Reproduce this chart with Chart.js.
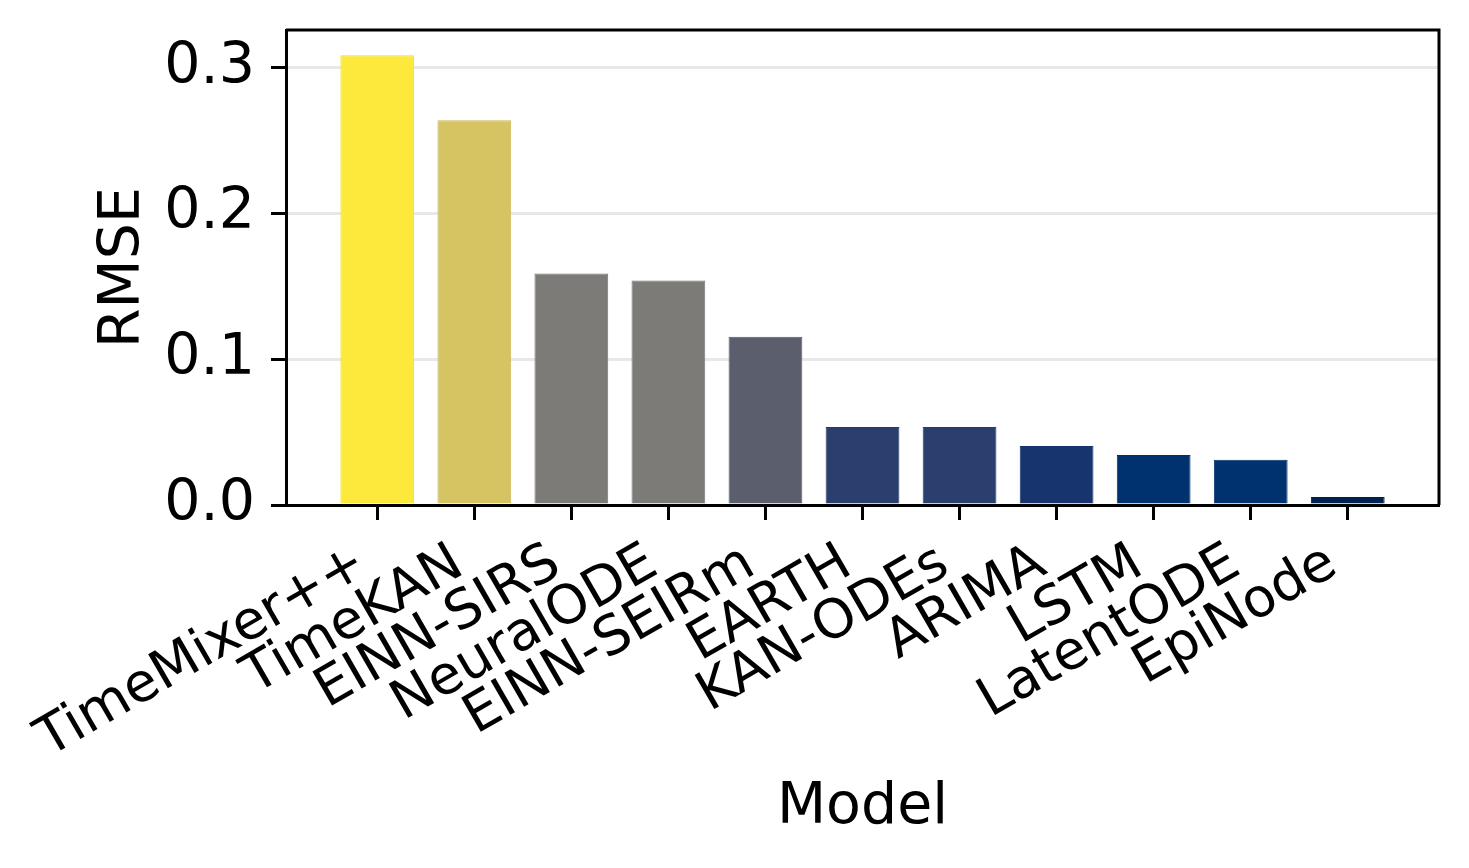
<!DOCTYPE html>
<html>
<head>
<meta charset="utf-8">
<script src="https://cdn.jsdelivr.net/npm/chart.js@4.4.1/dist/chart.umd.min.js"></script>
<style>
  html, body { margin: 0; padding: 0; background: #ffffff; }
  #wrap { width: 1469px; height: 868px; }
</style>
</head>
<body>
<div id="wrap"><canvas id="c" width="1469" height="868"></canvas></div>
<script>
// ---- data ----
const models = ["TimeMixer++", "TimeKAN", "EINN-SIRS", "NeuralODE", "EINN-SEIRm", "EARTH", "KAN-ODEs", "ARIMA", "LSTM", "LatentODE", "EpiNode"];
const rmse = [0.3086, 0.2640, 0.1588, 0.1540, 0.1155, 0.0536, 0.0536, 0.0405, 0.0344, 0.0310, 0.0055];
const barColors = ["#FDE93B", "#D6C462", "#7C7B78", "#7C7B78", "#5B5F6D", "#2A3F6E", "#2A3F6E", "#17346F", "#00326F", "#00326F", "#00224E"];
const yTicks = [0.0, 0.1, 0.2, 0.3];

const FONT = "'DejaVu Sans', 'Liberation Sans', sans-serif";

function darker(hex, f) {
  const n = parseInt(hex.slice(1), 16);
  const r = Math.round(((n >> 16) & 255) * f), g = Math.round(((n >> 8) & 255) * f), b = Math.round((n & 255) * f);
  return `rgb(${r},${g},${b})`;
}

const spinePlugin = {
  id: 'spines',
  afterDraw(chart) {
    const { ctx, chartArea: a } = chart;
    ctx.save();
    ctx.strokeStyle = '#000';
    ctx.lineWidth = 3;
    ctx.beginPath();
    ctx.moveTo(a.left, a.top);
    ctx.lineTo(a.right, a.top);
    ctx.lineTo(a.right, a.bottom);
    ctx.stroke();
    ctx.restore();
  }
};

new Chart(document.getElementById('c'), {
  type: 'bar',
  data: {
    datasets: [{
      data: models.map((m, i) => ({ x: i, y: rmse[i] })),
      backgroundColor: barColors,
      borderColor: barColors.map(c => darker(c, 0.95)),
      borderWidth: 1,
      barPercentage: 0.76,
      categoryPercentage: 1.0
    }]
  },
  options: {
    responsive: false,
    animation: false,
    devicePixelRatio: 1,
    layout: { padding: { left: 0, right: 30, top: 30, bottom: 0 } },
    plugins: { legend: { display: false }, tooltip: { enabled: false } },
    scales: {
      x: {
        type: 'linear',
        offset: false,
        min: -0.94,
        max: 10.94,
        afterBuildTicks(scale) { scale.ticks = models.map((m, i) => ({ value: i })); },
        afterFit(scale) { scale.height = 363; scale.paddingLeft = 0; scale.paddingRight = 0; },
        ticks: {
          autoSkip: false,
          minRotation: 30,
          maxRotation: 30,
          color: '#000',
          font: { family: FONT, size: 54 },
          padding: 12,
          labelOffset: -15,
          callback: (v) => models[v]
        },
        grid: { offset: false, drawOnChartArea: false, tickLength: 15, tickColor: '#000', tickWidth: 3 },
        border: { color: '#000', width: 3 },
        title: {
          display: true,
          text: 'Model',
          color: '#000',
          font: { family: FONT, size: 57 },
          padding: { top: 0, bottom: 26 }
        }
      },
      y: {
        min: 0,
        max: 0.326,
        z: 1,
        afterBuildTicks(scale) { scale.ticks = yTicks.map(v => ({ value: v })); },
        afterFit(scale) { scale.width = 286; scale.paddingTop = 0; scale.paddingBottom = 0; },
        ticks: {
          color: '#000',
          font: { family: FONT, size: 57 },
          padding: 16,
          callback: (v) => Number(v).toFixed(1)
        },
        grid: {
          color: (ctx) => (ctx.tick && ctx.tick.value === 0) ? 'rgba(0,0,0,0)' : 'rgba(0,0,0,0.09)',
          lineWidth: 3,
          tickLength: 15,
          tickColor: '#000',
          tickWidth: 3
        },
        border: { color: '#000', width: 3 },
        title: {
          display: true,
          text: 'RMSE',
          color: '#000',
          font: { family: FONT, size: 57 },
          padding: { top: 90, bottom: 0 }
        }
      }
    }
  },
  plugins: [spinePlugin]
});
</script>
</body>
</html>
